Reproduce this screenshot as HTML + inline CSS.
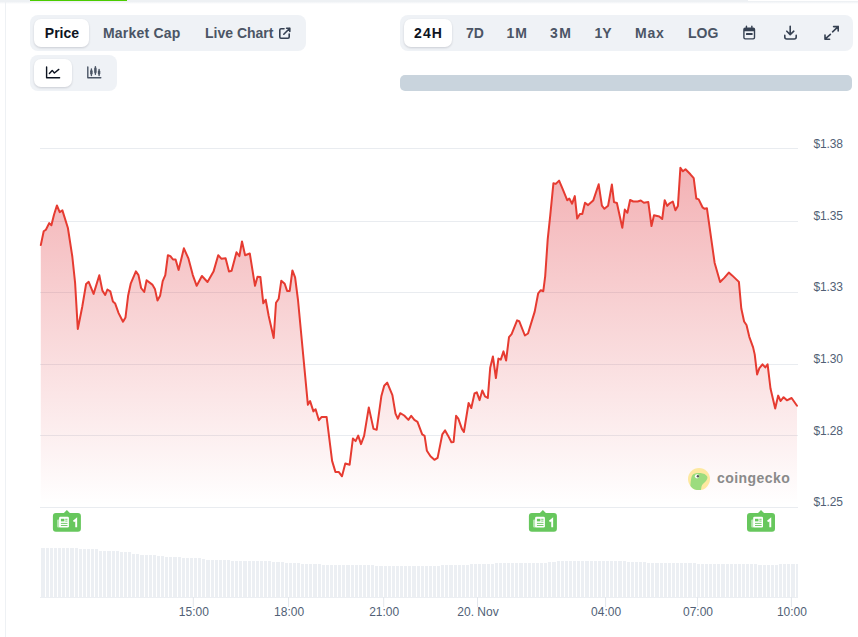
<!DOCTYPE html>
<html><head><meta charset="utf-8">
<style>
html,body{margin:0;padding:0;background:#fff;}
body{width:858px;height:637px;position:relative;overflow:hidden;font-family:"Liberation Sans",sans-serif;}
.abs{position:absolute;}
.grp{position:absolute;background:#eff2f6;border-radius:8px;}
.act{position:absolute;background:#fff;border-radius:7px;box-shadow:0 1px 2px rgba(16,24,40,0.10),0 1px 3px rgba(16,24,40,0.06);}
.bt{position:absolute;font-size:14px;font-weight:bold;color:#4b5565;white-space:nowrap;line-height:16px;top:24.5px;}
.bt.on{color:#0d1421;}
.yl{position:absolute;left:813.6px;letter-spacing:-0.2px;font-size:12px;color:#515f76;line-height:14px;white-space:nowrap;}
.xl{position:absolute;top:605px;width:80px;text-align:center;font-size:12px;color:#515f76;line-height:14px;white-space:nowrap;}
</style></head><body>
<div class="abs" style="left:0;top:0;width:858px;height:5px;background:linear-gradient(#eef1f4 0,#eef1f4 1.5px,rgba(238,241,244,0) 4px);"></div>
<div class="abs" style="left:748px;top:0;width:110px;height:1px;background:#fff;"></div>
<div class="abs" style="left:30px;top:0;width:97px;height:1.2px;background:#4bcc00;"></div>
<div class="abs" style="left:5px;top:2px;width:1px;height:635px;background:#eef1f4;"></div>

<div class="grp" style="left:30px;top:15px;width:276px;height:36px;"></div>
<div class="act" style="left:34px;top:19px;width:55px;height:28px;"></div>
<div class="bt on" style="left:44.8px;">Price</div>
<div class="bt" style="left:103px;letter-spacing:0.2px;">Market Cap</div>
<div class="bt" style="left:205px;">Live Chart</div>
<svg class="abs" style="left:0;top:0" width="858" height="637" viewBox="0 0 858 637">
<g fill="none" stroke="#364152" stroke-width="1.6" stroke-linecap="round" stroke-linejoin="round">
<path d="M284 28.8 H281 a1.2 1.2 0 0 0 -1.2 1.2 V37 a1.2 1.2 0 0 0 1.2 1.2 H288 a1.2 1.2 0 0 0 1.2 -1.2 V34"/>
<path d="M283.8 34.2 L289.8 28.2 M286.6 28.2 H289.8 V31.4"/>
</g>
</svg>

<div class="grp" style="left:30px;top:55px;width:87px;height:36px;"></div>
<div class="act" style="left:34px;top:59px;width:38px;height:28px;"></div>

<div class="grp" style="left:400px;top:15px;width:453px;height:36px;"></div>
<div class="act" style="left:404.4px;top:19.2px;width:47.4px;height:27.8px;"></div>
<div class="bt on" style="left:414px;letter-spacing:1.1px;">24H</div>
<div class="bt" style="left:466px;">7D</div>
<div class="bt" style="left:506.5px;letter-spacing:1px;">1M</div>
<div class="bt" style="left:550px;letter-spacing:1.5px;">3M</div>
<div class="bt" style="left:594.5px;">1Y</div>
<div class="bt" style="left:635px;letter-spacing:0.8px;">Max</div>
<div class="bt" style="left:688px;">LOG</div>

<div class="abs" style="left:400px;top:75px;width:452px;height:16px;background:#c9d4dd;border-radius:5px;"></div>

<svg class="abs" style="left:0;top:0" width="858" height="637" viewBox="0 0 858 637">
<defs>
<linearGradient id="fg" gradientUnits="userSpaceOnUse" x1="0" y1="148" x2="0" y2="505">
<stop offset="0" stop-color="#e0373f" stop-opacity="0.41"/>
<stop offset="1" stop-color="#e0373f" stop-opacity="0"/>
</linearGradient>
</defs>
<!-- icons -->
<g fill="none" stroke="#0d1421" stroke-width="1.4" stroke-linecap="round" stroke-linejoin="round">
<path d="M46.6 67 V77.8 H59.6"/>
<path d="M49.4 73.4 L52.2 70.4 L54.4 73 L58.8 69.4"/>
</g>
<g fill="none" stroke="#4b5565" stroke-width="1.4" stroke-linecap="round" stroke-linejoin="round">
<path d="M87.8 67 V77.8 H100.8"/>
<path d="M91.4 69 V75.5 M95.4 66.6 V74.3 M99.1 69.4 V75.5"/>
</g>
<g fill="#4b5565">
<rect x="90.2" y="70" width="2.4" height="4.5" rx="1.2"/>
<rect x="94.2" y="67.6" width="2.4" height="5.6" rx="1.2"/>
<rect x="97.9" y="70.4" width="2.4" height="4.1" rx="1.2"/>
</g>
<g fill="none" stroke="#364152" stroke-width="1.6" stroke-linecap="round" stroke-linejoin="round">
<path d="M790.2 26.3 V34.6 M786.8 31.2 L790.2 34.6 L793.8 31.2"/>
<path d="M784.8 35.4 V37 a2 2 0 0 0 2 2 H794.2 a2 2 0 0 0 2 -2 V35.4"/>
<path d="M832.6 31.8 L838.2 26.6 M833.6 26.6 H838.2 V31"/>
<path d="M830.4 34.4 L825 39.2 M825 35 V39.2 H829.6"/>
</g>
<g fill="#364152">
<path d="M745.2 27.6 H753.2 a2 2 0 0 1 2 2 V37.6 a2 2 0 0 1 -2 2 H745.2 a2 2 0 0 1 -2 -2 V29.6 a2 2 0 0 1 2 -2 Z M744.6 31.2 V37.4 a0.8 0.8 0 0 0 0.8 0.8 H753 a0.8 0.8 0 0 0 0.8 -0.8 V31.2 Z" fill-rule="evenodd"/>
<rect x="745.8" y="25.6" width="1.3" height="3" rx="0.6"/>
<rect x="751.2" y="25.6" width="1.3" height="3" rx="0.6"/>
<rect x="746" y="33" width="6.6" height="2.1" rx="0.5"/>
</g>

<!-- chart -->
<g stroke="#e9ecf0" stroke-width="1"><line x1="40" y1="148.5" x2="798" y2="148.5"/><line x1="40" y1="221.5" x2="798" y2="221.5"/><line x1="40" y1="292.5" x2="798" y2="292.5"/><line x1="40" y1="364.5" x2="798" y2="364.5"/><line x1="40" y1="435.5" x2="798" y2="435.5"/></g>
<line x1="40" y1="507.5" x2="798" y2="507.5" stroke="#e9ecf0" stroke-width="1"/>
<path d="M40.8 245.1 L43.7 231.3 L45.9 229.7 L49.2 223.1 L51.4 225.3 L54.0 214.8 L56.9 205.5 L59.7 212.1 L62.4 210.4 L67.9 228.0 L72.3 256.5 L75.1 282.9 L77.8 329.0 L82.2 307.0 L86.1 284.0 L88.7 281.8 L93.6 293.9 L99.3 275.2 L102.4 290.6 L105.2 295.0 L107.4 289.5 L110.3 291.3 L112.9 301.6 L115.2 303.6 L118.6 313.1 L123.0 321.7 L125.5 317.4 L128.1 295.8 L130.7 283.7 L135.9 271.3 L138.5 275.1 L141.1 288.0 L144.2 292.0 L146.6 280.3 L152.3 284.6 L154.9 288.9 L157.5 300.6 L160.1 295.8 L162.7 281.1 L165.3 275.1 L167.9 255.2 L170.4 256.1 L173.0 259.5 L175.6 259.5 L178.6 269.9 L183.9 248.3 L188.5 258.7 L192.8 275.1 L196.7 285.8 L201.9 276.0 L207.5 282.0 L213.5 271.6 L218.2 255.2 L221.3 258.7 L225.6 258.2 L229.0 271.6 L231.6 270.8 L236.5 252.3 L239.4 256.1 L242.0 241.4 L245.1 255.2 L249.8 253.5 L255.0 285.8 L257.5 276.8 L260.4 277.1 L263.3 303.3 L265.7 299.7 L268.7 316.0 L273.7 338.0 L276.0 302.7 L278.7 298.7 L281.3 280.7 L284.7 283.7 L287.1 290.9 L289.7 290.9 L292.4 270.4 L295.1 277.3 L298.0 300.0 L307.9 404.8 L310.1 401.1 L313.4 411.4 L315.6 409.2 L318.9 420.2 L321.7 416.9 L326.6 416.9 L332.1 460.9 L335.4 471.9 L338.7 471.9 L342.0 476.3 L345.3 463.5 L349.6 464.8 L352.9 438.5 L355.6 441.1 L358.2 435.6 L361.0 444.1 L364.1 435.9 L368.8 407.4 L373.5 428.9 L376.7 429.7 L381.4 395.9 L384.2 385.7 L387.2 382.6 L392.4 395.1 L395.5 413.6 L397.9 418.7 L400.2 413.2 L404.2 415.5 L408.4 419.9 L411.2 415.8 L414.4 419.9 L417.5 421.8 L422.2 434.4 L424.6 435.9 L426.9 450.8 L430.5 456.3 L434.4 459.8 L437.6 457.9 L442.3 434.4 L445.1 430.4 L448.2 435.9 L451.4 442.2 L453.6 441.9 L456.1 415.8 L458.3 418.7 L461.9 428.9 L463.9 432.0 L468.6 403.0 L471.3 408.0 L474.5 393.5 L476.8 392.3 L479.6 400.1 L482.3 390.4 L485.0 396.4 L487.8 398.0 L490.2 367.8 L492.9 356.5 L495.9 378.0 L498.4 358.6 L500.8 359.6 L503.5 351.4 L506.1 360.6 L509.0 337.1 L511.6 334.1 L517.1 320.4 L519.2 321.2 L524.9 335.5 L528.0 333.5 L534.7 311.6 L538.2 293.3 L540.8 290.2 L543.3 291.2 L545.2 276.1 L547.7 239.4 L550.3 214.9 L553.4 183.3 L555.8 183.9 L559.1 180.6 L562.6 188.8 L567.2 200.2 L569.3 198.6 L572.1 203.7 L574.8 196.1 L577.2 218.6 L579.9 213.9 L582.3 213.9 L585.0 202.7 L588.1 205.1 L593.2 200.6 L598.7 184.3 L601.9 205.7 L604.4 208.8 L608.1 205.7 L611.9 184.5 L614.0 202.1 L616.9 203.0 L622.3 227.8 L624.8 209.6 L627.4 212.8 L630.1 200.0 L633.3 201.5 L637.7 201.5 L640.8 200.5 L643.9 202.7 L648.3 202.1 L651.5 226.0 L654.0 215.3 L659.3 216.5 L662.2 219.0 L664.7 200.2 L667.2 205.9 L669.7 203.3 L672.8 201.5 L675.4 210.3 L677.9 205.9 L680.4 167.8 L682.9 171.3 L685.5 169.3 L690.4 174.3 L693.7 178.1 L696.3 198.5 L698.7 199.4 L702.5 207.3 L704.7 208.8 L706.9 208.2 L714.6 262.7 L720.1 282.0 L724.5 277.6 L728.8 272.6 L732.1 275.4 L738.9 281.9 L741.3 308.5 L744.1 321.5 L746.5 325.0 L749.3 336.8 L753.1 347.4 L754.7 354.4 L757.1 374.4 L759.4 368.1 L762.5 364.3 L765.3 367.4 L767.6 364.3 L770.5 388.5 L775.2 408.5 L778.2 395.6 L780.6 401.0 L783.6 397.2 L786.9 400.3 L791.6 398.0 L797.0 405.7 L797.0 505 L40.8 505 Z" fill="url(#fg)"/>
<path d="M40.8 245.1 L43.7 231.3 L45.9 229.7 L49.2 223.1 L51.4 225.3 L54.0 214.8 L56.9 205.5 L59.7 212.1 L62.4 210.4 L67.9 228.0 L72.3 256.5 L75.1 282.9 L77.8 329.0 L82.2 307.0 L86.1 284.0 L88.7 281.8 L93.6 293.9 L99.3 275.2 L102.4 290.6 L105.2 295.0 L107.4 289.5 L110.3 291.3 L112.9 301.6 L115.2 303.6 L118.6 313.1 L123.0 321.7 L125.5 317.4 L128.1 295.8 L130.7 283.7 L135.9 271.3 L138.5 275.1 L141.1 288.0 L144.2 292.0 L146.6 280.3 L152.3 284.6 L154.9 288.9 L157.5 300.6 L160.1 295.8 L162.7 281.1 L165.3 275.1 L167.9 255.2 L170.4 256.1 L173.0 259.5 L175.6 259.5 L178.6 269.9 L183.9 248.3 L188.5 258.7 L192.8 275.1 L196.7 285.8 L201.9 276.0 L207.5 282.0 L213.5 271.6 L218.2 255.2 L221.3 258.7 L225.6 258.2 L229.0 271.6 L231.6 270.8 L236.5 252.3 L239.4 256.1 L242.0 241.4 L245.1 255.2 L249.8 253.5 L255.0 285.8 L257.5 276.8 L260.4 277.1 L263.3 303.3 L265.7 299.7 L268.7 316.0 L273.7 338.0 L276.0 302.7 L278.7 298.7 L281.3 280.7 L284.7 283.7 L287.1 290.9 L289.7 290.9 L292.4 270.4 L295.1 277.3 L298.0 300.0 L307.9 404.8 L310.1 401.1 L313.4 411.4 L315.6 409.2 L318.9 420.2 L321.7 416.9 L326.6 416.9 L332.1 460.9 L335.4 471.9 L338.7 471.9 L342.0 476.3 L345.3 463.5 L349.6 464.8 L352.9 438.5 L355.6 441.1 L358.2 435.6 L361.0 444.1 L364.1 435.9 L368.8 407.4 L373.5 428.9 L376.7 429.7 L381.4 395.9 L384.2 385.7 L387.2 382.6 L392.4 395.1 L395.5 413.6 L397.9 418.7 L400.2 413.2 L404.2 415.5 L408.4 419.9 L411.2 415.8 L414.4 419.9 L417.5 421.8 L422.2 434.4 L424.6 435.9 L426.9 450.8 L430.5 456.3 L434.4 459.8 L437.6 457.9 L442.3 434.4 L445.1 430.4 L448.2 435.9 L451.4 442.2 L453.6 441.9 L456.1 415.8 L458.3 418.7 L461.9 428.9 L463.9 432.0 L468.6 403.0 L471.3 408.0 L474.5 393.5 L476.8 392.3 L479.6 400.1 L482.3 390.4 L485.0 396.4 L487.8 398.0 L490.2 367.8 L492.9 356.5 L495.9 378.0 L498.4 358.6 L500.8 359.6 L503.5 351.4 L506.1 360.6 L509.0 337.1 L511.6 334.1 L517.1 320.4 L519.2 321.2 L524.9 335.5 L528.0 333.5 L534.7 311.6 L538.2 293.3 L540.8 290.2 L543.3 291.2 L545.2 276.1 L547.7 239.4 L550.3 214.9 L553.4 183.3 L555.8 183.9 L559.1 180.6 L562.6 188.8 L567.2 200.2 L569.3 198.6 L572.1 203.7 L574.8 196.1 L577.2 218.6 L579.9 213.9 L582.3 213.9 L585.0 202.7 L588.1 205.1 L593.2 200.6 L598.7 184.3 L601.9 205.7 L604.4 208.8 L608.1 205.7 L611.9 184.5 L614.0 202.1 L616.9 203.0 L622.3 227.8 L624.8 209.6 L627.4 212.8 L630.1 200.0 L633.3 201.5 L637.7 201.5 L640.8 200.5 L643.9 202.7 L648.3 202.1 L651.5 226.0 L654.0 215.3 L659.3 216.5 L662.2 219.0 L664.7 200.2 L667.2 205.9 L669.7 203.3 L672.8 201.5 L675.4 210.3 L677.9 205.9 L680.4 167.8 L682.9 171.3 L685.5 169.3 L690.4 174.3 L693.7 178.1 L696.3 198.5 L698.7 199.4 L702.5 207.3 L704.7 208.8 L706.9 208.2 L714.6 262.7 L720.1 282.0 L724.5 277.6 L728.8 272.6 L732.1 275.4 L738.9 281.9 L741.3 308.5 L744.1 321.5 L746.5 325.0 L749.3 336.8 L753.1 347.4 L754.7 354.4 L757.1 374.4 L759.4 368.1 L762.5 364.3 L765.3 367.4 L767.6 364.3 L770.5 388.5 L775.2 408.5 L778.2 395.6 L780.6 401.0 L783.6 397.2 L786.9 400.3 L791.6 398.0 L797.0 405.7" fill="none" stroke="#e63b31" stroke-width="2" stroke-linejoin="round" stroke-linecap="round"/>
<g fill="#eceff3" shape-rendering="crispEdges"><rect x="41" y="548.0" width="4" height="49.0"/><rect x="46" y="548.0" width="3" height="49.0"/><rect x="50" y="548.0" width="3" height="49.0"/><rect x="54" y="548.0" width="3" height="49.0"/><rect x="58" y="548.0" width="3" height="49.0"/><rect x="62" y="548.0" width="3" height="49.0"/><rect x="66" y="548.0" width="3" height="49.0"/><rect x="70" y="548.0" width="4" height="49.0"/><rect x="75" y="548.0" width="3" height="49.0"/><rect x="79" y="549.0" width="3" height="48.0"/><rect x="83" y="549.0" width="3" height="48.0"/><rect x="87" y="549.0" width="3" height="48.0"/><rect x="91" y="549.0" width="3" height="48.0"/><rect x="95" y="549.0" width="3" height="48.0"/><rect x="99" y="550.5" width="3" height="46.5"/><rect x="103" y="550.5" width="3" height="46.5"/><rect x="107" y="550.5" width="4" height="46.5"/><rect x="112" y="550.5" width="3" height="46.5"/><rect x="116" y="550.5" width="3" height="46.5"/><rect x="120" y="552.0" width="3" height="45.0"/><rect x="124" y="552.0" width="3" height="45.0"/><rect x="128" y="552.0" width="3" height="45.0"/><rect x="132" y="553.5" width="3" height="43.5"/><rect x="136" y="553.5" width="3" height="43.5"/><rect x="140" y="555.0" width="4" height="42.0"/><rect x="145" y="555.0" width="3" height="42.0"/><rect x="149" y="555.0" width="3" height="42.0"/><rect x="153" y="555.0" width="3" height="42.0"/><rect x="157" y="556.0" width="3" height="41.0"/><rect x="161" y="556.0" width="3" height="41.0"/><rect x="165" y="557.0" width="3" height="40.0"/><rect x="169" y="557.0" width="3" height="40.0"/><rect x="173" y="557.0" width="4" height="40.0"/><rect x="178" y="557.0" width="3" height="40.0"/><rect x="182" y="558.0" width="3" height="39.0"/><rect x="186" y="558.0" width="3" height="39.0"/><rect x="190" y="558.0" width="3" height="39.0"/><rect x="194" y="558.0" width="3" height="39.0"/><rect x="198" y="558.0" width="3" height="39.0"/><rect x="202" y="559.0" width="3" height="38.0"/><rect x="206" y="560.0" width="4" height="37.0"/><rect x="211" y="560.0" width="3" height="37.0"/><rect x="215" y="560.0" width="3" height="37.0"/><rect x="219" y="560.0" width="3" height="37.0"/><rect x="223" y="560.0" width="3" height="37.0"/><rect x="227" y="560.0" width="3" height="37.0"/><rect x="231" y="561.0" width="3" height="36.0"/><rect x="235" y="561.0" width="3" height="36.0"/><rect x="239" y="561.0" width="3" height="36.0"/><rect x="243" y="561.0" width="4" height="36.0"/><rect x="248" y="561.0" width="3" height="36.0"/><rect x="252" y="561.0" width="3" height="36.0"/><rect x="256" y="561.0" width="3" height="36.0"/><rect x="260" y="561.0" width="3" height="36.0"/><rect x="264" y="561.0" width="3" height="36.0"/><rect x="268" y="561.0" width="3" height="36.0"/><rect x="272" y="562.0" width="3" height="35.0"/><rect x="276" y="562.0" width="4" height="35.0"/><rect x="281" y="562.0" width="3" height="35.0"/><rect x="285" y="563.0" width="3" height="34.0"/><rect x="289" y="563.0" width="3" height="34.0"/><rect x="293" y="563.0" width="3" height="34.0"/><rect x="297" y="563.0" width="3" height="34.0"/><rect x="301" y="564.0" width="3" height="33.0"/><rect x="305" y="564.0" width="3" height="33.0"/><rect x="309" y="564.0" width="3" height="33.0"/><rect x="313" y="564.0" width="4" height="33.0"/><rect x="318" y="564.0" width="3" height="33.0"/><rect x="322" y="565.0" width="3" height="32.0"/><rect x="326" y="565.0" width="3" height="32.0"/><rect x="330" y="565.0" width="3" height="32.0"/><rect x="334" y="565.0" width="3" height="32.0"/><rect x="338" y="565.0" width="3" height="32.0"/><rect x="342" y="565.0" width="3" height="32.0"/><rect x="346" y="565.0" width="4" height="32.0"/><rect x="351" y="565.0" width="3" height="32.0"/><rect x="355" y="565.0" width="3" height="32.0"/><rect x="359" y="565.0" width="3" height="32.0"/><rect x="363" y="565.0" width="3" height="32.0"/><rect x="367" y="565.0" width="3" height="32.0"/><rect x="371" y="565.0" width="3" height="32.0"/><rect x="375" y="566.0" width="3" height="31.0"/><rect x="379" y="566.0" width="4" height="31.0"/><rect x="384" y="566.0" width="3" height="31.0"/><rect x="388" y="566.0" width="3" height="31.0"/><rect x="392" y="566.0" width="3" height="31.0"/><rect x="396" y="566.0" width="3" height="31.0"/><rect x="400" y="566.0" width="3" height="31.0"/><rect x="404" y="566.0" width="3" height="31.0"/><rect x="408" y="566.0" width="3" height="31.0"/><rect x="412" y="566.0" width="4" height="31.0"/><rect x="417" y="566.0" width="3" height="31.0"/><rect x="421" y="566.0" width="3" height="31.0"/><rect x="425" y="566.0" width="3" height="31.0"/><rect x="429" y="566.0" width="3" height="31.0"/><rect x="433" y="566.0" width="3" height="31.0"/><rect x="437" y="566.0" width="3" height="31.0"/><rect x="441" y="565.0" width="3" height="32.0"/><rect x="445" y="565.0" width="3" height="32.0"/><rect x="449" y="565.0" width="4" height="32.0"/><rect x="454" y="565.0" width="3" height="32.0"/><rect x="458" y="565.0" width="3" height="32.0"/><rect x="462" y="565.0" width="3" height="32.0"/><rect x="466" y="565.0" width="3" height="32.0"/><rect x="470" y="564.0" width="3" height="33.0"/><rect x="474" y="564.0" width="3" height="33.0"/><rect x="478" y="564.0" width="3" height="33.0"/><rect x="482" y="564.0" width="4" height="33.0"/><rect x="487" y="564.0" width="3" height="33.0"/><rect x="491" y="564.0" width="3" height="33.0"/><rect x="495" y="563.0" width="3" height="34.0"/><rect x="499" y="563.0" width="3" height="34.0"/><rect x="503" y="563.0" width="3" height="34.0"/><rect x="507" y="563.0" width="3" height="34.0"/><rect x="511" y="563.0" width="3" height="34.0"/><rect x="515" y="563.0" width="3" height="34.0"/><rect x="519" y="563.0" width="4" height="34.0"/><rect x="524" y="563.0" width="3" height="34.0"/><rect x="528" y="563.0" width="3" height="34.0"/><rect x="532" y="563.0" width="3" height="34.0"/><rect x="536" y="563.0" width="3" height="34.0"/><rect x="540" y="563.0" width="3" height="34.0"/><rect x="544" y="563.0" width="3" height="34.0"/><rect x="548" y="562.0" width="3" height="35.0"/><rect x="552" y="562.0" width="4" height="35.0"/><rect x="557" y="561.0" width="3" height="36.0"/><rect x="561" y="561.0" width="3" height="36.0"/><rect x="565" y="561.0" width="3" height="36.0"/><rect x="569" y="561.0" width="3" height="36.0"/><rect x="573" y="561.0" width="3" height="36.0"/><rect x="577" y="561.0" width="3" height="36.0"/><rect x="581" y="561.0" width="3" height="36.0"/><rect x="585" y="561.0" width="4" height="36.0"/><rect x="590" y="561.0" width="3" height="36.0"/><rect x="594" y="561.0" width="3" height="36.0"/><rect x="598" y="561.0" width="3" height="36.0"/><rect x="602" y="561.0" width="3" height="36.0"/><rect x="606" y="561.0" width="3" height="36.0"/><rect x="610" y="561.0" width="3" height="36.0"/><rect x="614" y="561.0" width="3" height="36.0"/><rect x="618" y="561.0" width="4" height="36.0"/><rect x="623" y="561.0" width="3" height="36.0"/><rect x="627" y="562.0" width="3" height="35.0"/><rect x="631" y="562.0" width="3" height="35.0"/><rect x="635" y="562.0" width="3" height="35.0"/><rect x="639" y="562.0" width="3" height="35.0"/><rect x="643" y="562.0" width="3" height="35.0"/><rect x="647" y="563.0" width="3" height="34.0"/><rect x="651" y="563.0" width="3" height="34.0"/><rect x="655" y="563.0" width="4" height="34.0"/><rect x="660" y="563.0" width="3" height="34.0"/><rect x="664" y="563.0" width="3" height="34.0"/><rect x="668" y="563.0" width="3" height="34.0"/><rect x="672" y="563.0" width="3" height="34.0"/><rect x="676" y="563.0" width="3" height="34.0"/><rect x="680" y="563.0" width="3" height="34.0"/><rect x="684" y="563.0" width="3" height="34.0"/><rect x="688" y="563.0" width="4" height="34.0"/><rect x="693" y="563.0" width="3" height="34.0"/><rect x="697" y="564.0" width="3" height="33.0"/><rect x="701" y="564.0" width="3" height="33.0"/><rect x="705" y="564.0" width="3" height="33.0"/><rect x="709" y="564.0" width="3" height="33.0"/><rect x="713" y="564.0" width="3" height="33.0"/><rect x="717" y="564.0" width="3" height="33.0"/><rect x="721" y="564.0" width="4" height="33.0"/><rect x="726" y="564.0" width="3" height="33.0"/><rect x="730" y="564.0" width="3" height="33.0"/><rect x="734" y="564.0" width="3" height="33.0"/><rect x="738" y="564.0" width="3" height="33.0"/><rect x="742" y="564.0" width="3" height="33.0"/><rect x="746" y="564.0" width="3" height="33.0"/><rect x="750" y="564.0" width="3" height="33.0"/><rect x="754" y="564.0" width="3" height="33.0"/><rect x="758" y="564.5" width="4" height="32.5"/><rect x="763" y="564.5" width="3" height="32.5"/><rect x="767" y="564.5" width="3" height="32.5"/><rect x="771" y="564.5" width="3" height="32.5"/><rect x="775" y="564.5" width="3" height="32.5"/><rect x="779" y="564.0" width="3" height="33.0"/><rect x="783" y="564.0" width="3" height="33.0"/><rect x="787" y="564.0" width="3" height="33.0"/><rect x="791" y="564.0" width="4" height="33.0"/><rect x="796" y="564.0" width="2" height="33.0"/></g>
<line x1="40" y1="597.5" x2="798" y2="597.5" stroke="#eceff3" stroke-width="1"/>
<g stroke="#e3e7ec" stroke-width="1"><line x1="193.3" y1="597" x2="193.3" y2="607"/><line x1="288.6" y1="597" x2="288.6" y2="607"/><line x1="383.7" y1="597" x2="383.7" y2="607"/><line x1="477.5" y1="597" x2="477.5" y2="607"/><line x1="605.6" y1="597" x2="605.6" y2="607"/><line x1="697.5" y1="597" x2="697.5" y2="607"/><line x1="791.4" y1="597" x2="791.4" y2="607"/></g>
<g transform="translate(52.9,510)">
<path d="M3 2.9 H11 L14 0 L17 2.9 H25 a3 3 0 0 1 3 3 V18.8 a3 3 0 0 1 -3 3 H3 a3 3 0 0 1 -3 -3 V5.9 a3 3 0 0 1 3 -3 Z" fill="#67c75d"/>
<rect x="4.2" y="9.6" width="3" height="8" rx="1" fill="#fff" fill-opacity="0.55"/>
<rect x="6.2" y="6.8" width="9.8" height="10.8" rx="1.3" fill="#fff"/>
<rect x="8" y="8.8" width="3.5" height="2.6" fill="#67c75d"/>
<rect x="12.3" y="8.8" width="2.3" height="0.9" fill="#67c75d"/>
<rect x="12.3" y="10.6" width="2.3" height="0.9" fill="#67c75d"/>
<rect x="8" y="12.9" width="6.6" height="0.9" fill="#67c75d"/>
<rect x="8" y="15" width="6.6" height="0.9" fill="#67c75d"/>
<path d="M20.6 11.4 L23.3 9.3 V17.2" fill="none" stroke="#fff" stroke-width="1.9" stroke-linejoin="miter"/>
</g><g transform="translate(528.9,510)">
<path d="M3 2.9 H11 L14 0 L17 2.9 H25 a3 3 0 0 1 3 3 V18.8 a3 3 0 0 1 -3 3 H3 a3 3 0 0 1 -3 -3 V5.9 a3 3 0 0 1 3 -3 Z" fill="#67c75d"/>
<rect x="4.2" y="9.6" width="3" height="8" rx="1" fill="#fff" fill-opacity="0.55"/>
<rect x="6.2" y="6.8" width="9.8" height="10.8" rx="1.3" fill="#fff"/>
<rect x="8" y="8.8" width="3.5" height="2.6" fill="#67c75d"/>
<rect x="12.3" y="8.8" width="2.3" height="0.9" fill="#67c75d"/>
<rect x="12.3" y="10.6" width="2.3" height="0.9" fill="#67c75d"/>
<rect x="8" y="12.9" width="6.6" height="0.9" fill="#67c75d"/>
<rect x="8" y="15" width="6.6" height="0.9" fill="#67c75d"/>
<path d="M20.6 11.4 L23.3 9.3 V17.2" fill="none" stroke="#fff" stroke-width="1.9" stroke-linejoin="miter"/>
</g><g transform="translate(747.0,510)">
<path d="M3 2.9 H11 L14 0 L17 2.9 H25 a3 3 0 0 1 3 3 V18.8 a3 3 0 0 1 -3 3 H3 a3 3 0 0 1 -3 -3 V5.9 a3 3 0 0 1 3 -3 Z" fill="#67c75d"/>
<rect x="4.2" y="9.6" width="3" height="8" rx="1" fill="#fff" fill-opacity="0.55"/>
<rect x="6.2" y="6.8" width="9.8" height="10.8" rx="1.3" fill="#fff"/>
<rect x="8" y="8.8" width="3.5" height="2.6" fill="#67c75d"/>
<rect x="12.3" y="8.8" width="2.3" height="0.9" fill="#67c75d"/>
<rect x="12.3" y="10.6" width="2.3" height="0.9" fill="#67c75d"/>
<rect x="8" y="12.9" width="6.6" height="0.9" fill="#67c75d"/>
<rect x="8" y="15" width="6.6" height="0.9" fill="#67c75d"/>
<path d="M20.6 11.4 L23.3 9.3 V17.2" fill="none" stroke="#fff" stroke-width="1.9" stroke-linejoin="miter"/>
</g>
<!-- coingecko logo -->
<g>
<circle cx="699" cy="479.1" r="11" fill="#fde8a0"/>
<clipPath id="cc"><circle cx="699" cy="479.1" r="11"/></clipPath>
<path clip-path="url(#cc)" d="M689.5 491 L690.4 485 C690.8 481 691 477 692.5 475 C694 473.2 697 472.8 700.5 473 C703.5 473.3 706 474.5 707.2 476.5 C707.8 478 707.3 479.5 706 481 C704 483 702 484.5 701.5 486.5 L700.8 491 Z" fill="#9cdc7e"/>
<circle cx="697" cy="476.3" r="2.1" fill="#fff"/>
<circle cx="697.9" cy="476.3" r="1.2" fill="#555"/>
</g>
<text x="717" y="483.2" style="font-family:'Liberation Sans',sans-serif;font-weight:bold;font-size:14px;letter-spacing:0.45px" fill="#8a8a8a">coingecko</text>
</svg>
<div class="yl" style="top:136.9px">$1.38</div><div class="yl" style="top:208.6px">$1.35</div><div class="yl" style="top:280.2px">$1.33</div><div class="yl" style="top:351.9px">$1.30</div><div class="yl" style="top:423.6px">$1.28</div><div class="yl" style="top:495.2px">$1.25</div>
<div class="xl" style="left:153.8px">15:00</div><div class="xl" style="left:249.1px">18:00</div><div class="xl" style="left:344.2px">21:00</div><div class="xl" style="left:438.0px">20. Nov</div><div class="xl" style="left:566.1px">04:00</div><div class="xl" style="left:658.0px">07:00</div><div class="xl" style="left:751.9px">10:00</div>
</body></html>
